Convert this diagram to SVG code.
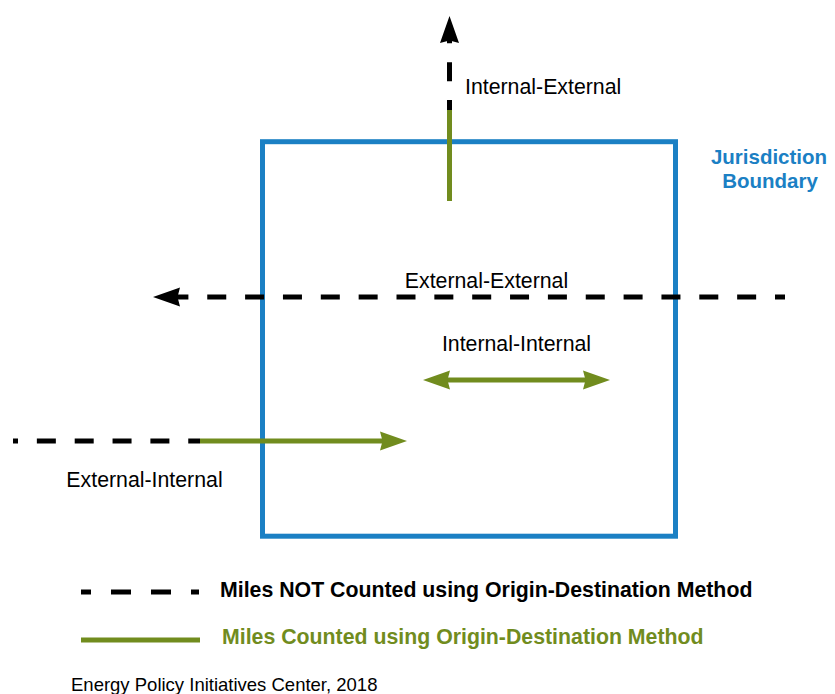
<svg xmlns="http://www.w3.org/2000/svg" width="835" height="694" viewBox="0 0 835 694">
  <style>
    .lbl { font-family: "Liberation Sans", Arial, sans-serif; font-size: 21.3px; fill: #000; }
    .bold { font-weight: bold; }
    .blue { fill: #1b80c4; }
    .greenTxt { fill: #718c1e; }
    .dash { fill: none; stroke: #000; stroke-width: 5; stroke-dasharray: 19 18.85; stroke-dashoffset: 9; }
    .solid { fill: none; stroke: #718c1e; stroke-width: 5; }
    .boundary { fill: none; stroke: #1b80c4; stroke-width: 5; }
  </style>
  <defs>
    <marker id="arrowBlack" markerUnits="userSpaceOnUse" viewBox="0 -10 30 20" markerWidth="30" markerHeight="20" refX="3" refY="0" orient="auto">
      <path d="M27,0 L0,-9.5 L2.5,0 L0,9.5 Z" fill="#000"/>
    </marker>
    <marker id="arrowGreen" markerUnits="userSpaceOnUse" viewBox="0 -10 30 20" markerWidth="30" markerHeight="20" refX="3" refY="0" orient="auto-start-reverse">
      <path d="M27,0 L0,-9.5 L2.5,0 L0,9.5 Z" fill="#718c1e"/>
    </marker>
  </defs>
  <rect width="835" height="694" fill="#fff"/>

  <g id="jurisdiction">
    <rect class="boundary" x="262.5" y="141.7" width="413" height="394.5"/>
    <text class="lbl bold blue" x="769" y="163.5" text-anchor="middle" style="font-size:20.5px">Jurisdiction</text>
    <text class="lbl bold blue" x="770" y="188" text-anchor="middle" style="font-size:20.5px">Boundary</text>
  </g>

  <g id="connectors">
    <!-- Internal-External -->
    <path class="solid" d="M449.5,201 L449.5,110"/>
    <path class="dash" d="M449.5,110 L449.5,40" marker-end="url(#arrowBlack)"/>
    <!-- External-External -->
    <path class="dash" d="M785,297 L177,297" marker-end="url(#arrowBlack)"/>
    <!-- Internal-Internal -->
    <path class="solid" d="M447,380 L586,380" marker-start="url(#arrowGreen)" marker-end="url(#arrowGreen)"/>
    <!-- External-Internal -->
    <path class="dash" d="M13,441 L200,441" style="stroke-dashoffset:14"/>
    <path class="solid" d="M200,441 L383,441" marker-end="url(#arrowGreen)"/>
  </g>

  <g id="label-internal-external">
    <text class="lbl" x="465" y="93.5">Internal-External</text>
  </g>
  <g id="label-external-external">
    <text class="lbl" x="486.5" y="288" text-anchor="middle">External-External</text>
  </g>
  <g id="label-internal-internal">
    <text class="lbl" x="516.5" y="351" text-anchor="middle">Internal-Internal</text>
  </g>
  <g id="label-external-internal">
    <text class="lbl" x="144.5" y="487" text-anchor="middle">External-Internal</text>
  </g>

  <g id="legend">
    <path d="M81,592 L199,592" fill="none" stroke="#000" stroke-width="5" stroke-dasharray="20 20" stroke-dashoffset="10"/>
    <text class="lbl bold" x="220" y="596.5">Miles NOT Counted using Origin-Destination Method</text>
    <path class="solid" d="M81,640 L200,640"/>
    <text class="lbl bold greenTxt" x="222" y="644">Miles Counted using Origin-Destination Method</text>
  </g>

  <g id="credit">
    <text class="lbl" x="71" y="691" style="font-size:18.5px">Energy Policy Initiatives Center, 2018</text>
  </g>
</svg>
